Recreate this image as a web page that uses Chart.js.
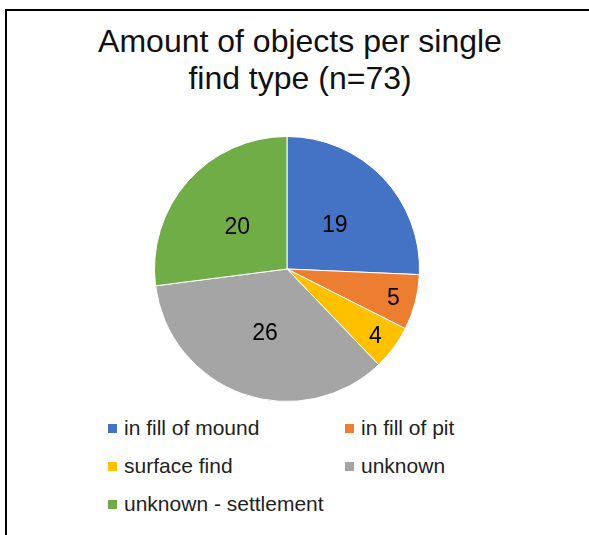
<!DOCTYPE html>
<html>
<head>
<meta charset="utf-8">
<script src="https://cdn.jsdelivr.net/npm/chart.js@4/dist/chart.umd.min.js"></script>
<style>
  html, body { margin: 0; padding: 0; background: #fff; }
  body { width: 589px; height: 535px; position: relative; overflow: hidden;
         font-family: "Liberation Sans", Arial, sans-serif; }
  /* frame: only the top and left edges fall inside the window */
  .frame { position: absolute; left: 5px; top: 9px; width: 700px; height: 700px;
           border-left: 2px solid #000; border-top: 2px solid #000; }
  .title { position: absolute; left: 0; width: 600px; top: 23px; text-align: center;
           font-size: 32px; line-height: 37px; color: #111; }
  .pie-box { position: absolute; left: 154px; top: 136px; width: 266px; height: 266px; }
  .legend { position: absolute; left: 108px; top: 409px; display: grid;
            grid-template-columns: 237px auto; font-size: 21px; line-height: 38px; color: #222; }
  .legend span { display: flex; align-items: center; white-space: nowrap; }
  .legend i { display: inline-block; width: 9px; height: 9px; margin-right: 7px; }
</style>
</head>
<body>
<div class="frame"></div>
<div class="title">Amount of objects per single<br>find type (n=73)</div>
<div class="pie-box"><canvas id="pieChart"></canvas></div>
<div class="legend" id="legend"></div>

<script>
// Tipos de hallazgo y cantidad de objetos por tipo
const labels = ['in fill of mound', 'in fill of pit', 'surface find', 'unknown', 'unknown - settlement'];
const counts = [19, 5, 4, 26, 20];
const colors = ['#4472C4', '#ED7D31', '#FFC000', '#A5A5A5', '#70AD47'];

// Etiquetas con el valor dentro de cada porción (las chicas van más afuera)
const sliceLabels = {
  id: 'sliceLabels',
  afterDatasetsDraw(chart) {
    const { ctx } = chart;
    const meta = chart.getDatasetMeta(0);
    ctx.save();
    ctx.font = '23px "Liberation Sans", Arial, sans-serif';
    ctx.fillStyle = '#000';
    ctx.textAlign = 'center';
    ctx.textBaseline = 'middle';
    meta.data.forEach((arc, i) => {
      const { x, y, startAngle, endAngle, outerRadius } = arc.getProps(['x', 'y', 'startAngle', 'endAngle', 'outerRadius'], true);
      const mid  = (startAngle + endAngle) / 2;
      const frac = (endAngle - startAngle) / (Math.PI * 2);
      const r    = outerRadius * (frac < 0.1 ? 0.83 : 0.5);
      ctx.fillText(String(counts[i]), x + Math.cos(mid) * r, y + Math.sin(mid) * r + 2);
    });
    ctx.restore();
  },
};

new Chart(document.getElementById('pieChart'), {
  type: 'pie',
  data: {
    labels,
    datasets: [{ data: counts, backgroundColor: colors, borderColor: '#fff', borderWidth: 1 }],
  },
  options: {
    responsive: true,
    maintainAspectRatio: false,
    animation: false,
    layout: { padding: 0 },
    plugins: {
      legend: { display: false },
      tooltip: { enabled: false },
    },
  },
  plugins: [sliceLabels],
});

// Leyenda en dos columnas
document.getElementById('legend').innerHTML = labels
  .map((l, i) => `<span><i style="background:${colors[i]}"></i>${l}</span>`)
  .join('');
</script>
</body>
</html>
